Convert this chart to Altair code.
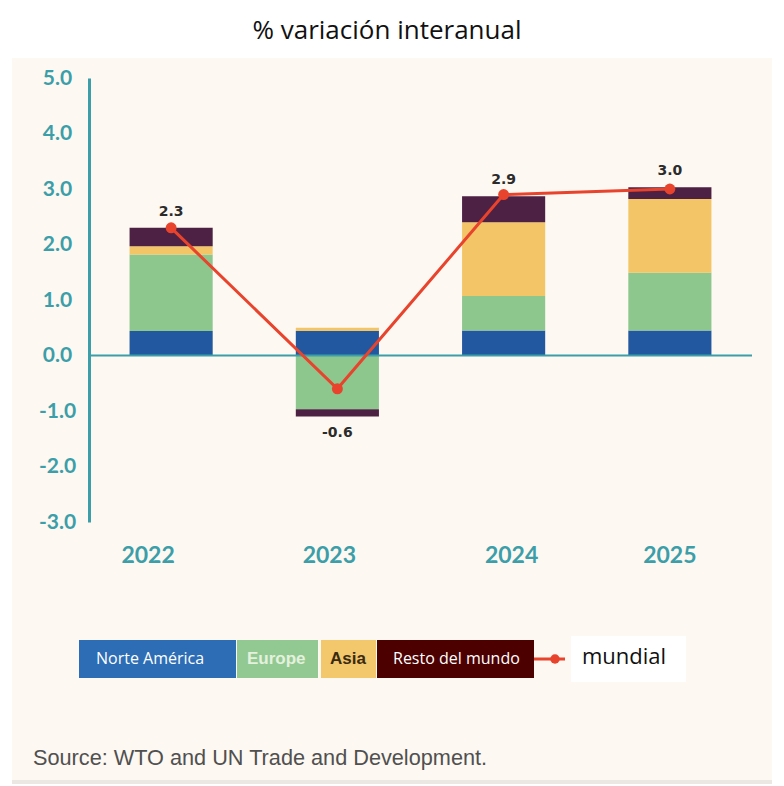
import altair as alt
import pandas as pd

# ---- data ----
years = ["2022", "2023", "2024", "2025"]
series_names = ["Norte América", "Europe", "Asia", "Resto del mundo"]
norte_america = [0.44, 0.44, 0.45, 0.45]
europe = [1.38, -0.97, 0.62, 1.04]
asia = [0.15, 0.06, 1.33, 1.33]
resto = [0.33, -0.13, 0.47, 0.21]
mundial = [2.3, -0.6, 2.9, 3.0]
y_ticks = [-3, -2, -1, 0, 1, 2, 3, 4, 5]

bar_colors = ["#22589f", "#8dc78e", "#f3c567", "#4d2143"]
legend_colors = ["#2c6db6", "#92c992", "#f3c76c", "#4c0000"]
legend_text_colors = ["#ffffff", "#e4f1dd", "#3a2a10", "#ffffff"]
red = "#e8432c"
teal = "#3b9ea8"
cream = "#fdf8f1"

W, H = 663, 444

# ---- tables ----
rows = []
for si, (name, vals) in enumerate(zip(series_names, [norte_america, europe, asia, resto])):
    for yi, yr in enumerate(years):
        rows.append({"year": yr, "serie": name, "value": vals[yi], "order": si})
bars_df = pd.DataFrame(rows)

lab_rows = []
for yi, yr in enumerate(years):
    vals = [norte_america[yi], europe[yi], asia[yi], resto[yi]]
    pos = sum(v for v in vals if v > 0)
    neg = sum(v for v in vals if v < 0)
    lab_rows.append({"year": yr, "mundial": mundial[yi],
                     "anchor": pos if mundial[yi] >= 0 else neg,
                     "txt": f"{mundial[yi]:.1f}"})
world_df = pd.DataFrame(lab_rows)

# year labels in the reference sit slightly off the bar centres
label_shift = [-23, -8, 8, 0]
x_label_offset = {
    "condition": [{"test": f"datum.value == '{yr}'", "value": s}
                  for yr, s in zip(years, label_shift)],
    "value": 0,
}

x_axis = alt.Axis(title=None, domain=False, ticks=False, labelAngle=0, zindex=1,
                  labelPadding=22, labelFontSize=23, labelFont="Lato",
                  labelFontWeight="bold", labelColor=teal, labelOffset=x_label_offset)
y_axis = alt.Axis(title=None, values=y_ticks, ticks=False, grid=False, zindex=1,
                  labelExpr="replace(format(datum.value, '.1f'), '\u2212', '-')",
                  domainColor=teal, domainWidth=3, labelAlign="center",
                  labelPadding=32, labelFontSize=21, labelFont="Lato",
                  labelFontWeight="bold", labelColor=teal)
x_scale = alt.Scale(paddingInner=0.5, paddingOuter=0.244)
y_scale = alt.Scale(domain=[-3, 5], nice=False, zero=False)

one = pd.DataFrame({"a": [0]})

background = alt.Chart(one).mark_rect(color=cream).encode(
    x=alt.value(-77), x2=alt.value(684), y=alt.value(-20), y2=alt.value(702))
bottom_strip = alt.Chart(one).mark_rect(color="#ebe7e2").encode(
    x=alt.value(-77), x2=alt.value(684), y=alt.value(702), y2=alt.value(708))

bars = alt.Chart(bars_df).mark_bar().encode(
    x=alt.X("year:N", sort=years, scale=x_scale, axis=x_axis),
    y=alt.Y("value:Q", scale=y_scale, stack="zero", axis=y_axis),
    color=alt.Color("serie:N", scale=alt.Scale(domain=series_names, range=bar_colors), legend=None),
    order=alt.Order("order:Q"),
)

zero_rule = alt.Chart(one).mark_rule(color=teal, strokeWidth=2).encode(y=alt.datum(0))

line = alt.Chart(world_df).mark_line(color=red, strokeWidth=3).encode(
    x=alt.X("year:N", sort=years), y=alt.Y("mundial:Q"))
points = alt.Chart(world_df).mark_point(color=red, filled=True, size=120, opacity=1).encode(
    x=alt.X("year:N", sort=years), y=alt.Y("mundial:Q"))

labels_pos = alt.Chart(world_df).transform_filter("datum.mundial >= 0").mark_text(
    font="DejaVu Sans", fontWeight="bold", fontSize=14, color="#2b2b2b", baseline="bottom", dy=-9
).encode(x=alt.X("year:N", sort=years), y=alt.Y("anchor:Q"), text="txt:N")
labels_neg = alt.Chart(world_df).transform_filter("datum.mundial < 0").mark_text(
    font="DejaVu Sans", fontWeight="bold", fontSize=14, color="#2b2b2b", baseline="top", dy=9
).encode(x=alt.X("year:N", sort=years), y=alt.Y("anchor:Q"), text="txt:N")

# ---- custom legend strip (layout positions in pixels) ----
leg_x0 = [-10, 148, 232, 288]
leg_x1 = [147, 229, 287, 445]
leg_tx = [7, 158, 241, 304]
leg_bold = [False, True, True, False]
legend_layers = []
for i, name in enumerate(series_names):
    legend_layers.append(alt.Chart(one).mark_rect(color=legend_colors[i]).encode(
        x=alt.value(leg_x0[i]), x2=alt.value(leg_x1[i]), y=alt.value(562), y2=alt.value(600)))
for i, name in enumerate(series_names):
    if leg_bold[i]:
        mk = alt.Chart(one).mark_text(text=name, font="Liberation Sans", fontWeight="bold",
                                      fontSize=17, align="left", baseline="middle",
                                      color=legend_text_colors[i])
    else:
        mk = alt.Chart(one).mark_text(text=name, font="Open Sans", fontSize=16,
                                      align="left", baseline="middle",
                                      color=legend_text_colors[i])
    legend_layers.append(mk.encode(x=alt.value(leg_tx[i]), y=alt.value(581)))

leg_white = alt.Chart(one).mark_rect(color="white").encode(
    x=alt.value(482), x2=alt.value(597), y=alt.value(558), y2=alt.value(604))
leg_line = alt.Chart(one).mark_rule(color=red, strokeWidth=3).encode(
    x=alt.value(445), x2=alt.value(476), y=alt.value(581))
leg_dot = alt.Chart(one).mark_point(color=red, filled=True, size=90, opacity=1).encode(
    x=alt.value(466), y=alt.value(581))
leg_mundial = alt.Chart(one).mark_text(
    text="mundial", font="Open Sans", fontSize=22, align="left", baseline="middle", color="#111").encode(
    x=alt.value(493), y=alt.value(579))

title = alt.Chart(one).mark_text(
    text="% variación interanual", font="Open Sans", fontSize=26, color="#111",
    align="center", baseline="middle").encode(x=alt.value(298), y=alt.value(-47))
source = alt.Chart(one).mark_text(
    text="Source: WTO and UN Trade and Development.", font="Liberation Sans", fontSize=21.7,
    color="#505050", align="left", baseline="middle").encode(x=alt.value(-56), y=alt.value(680))

chart = alt.layer(
    background, bottom_strip, bars, zero_rule, line, points, labels_pos, labels_neg,
    *legend_layers, leg_white, leg_line, leg_dot, leg_mundial,
    title, source,
).properties(
    width=W, height=H,
    autosize=alt.AutoSizeParams(type="none"),
    padding={"left": 81, "top": 70, "right": 20, "bottom": 262},
    background="white",
).configure_view(stroke=None)

chart.save("out.html", embed_options={"renderer": "svg", "actions": False})
